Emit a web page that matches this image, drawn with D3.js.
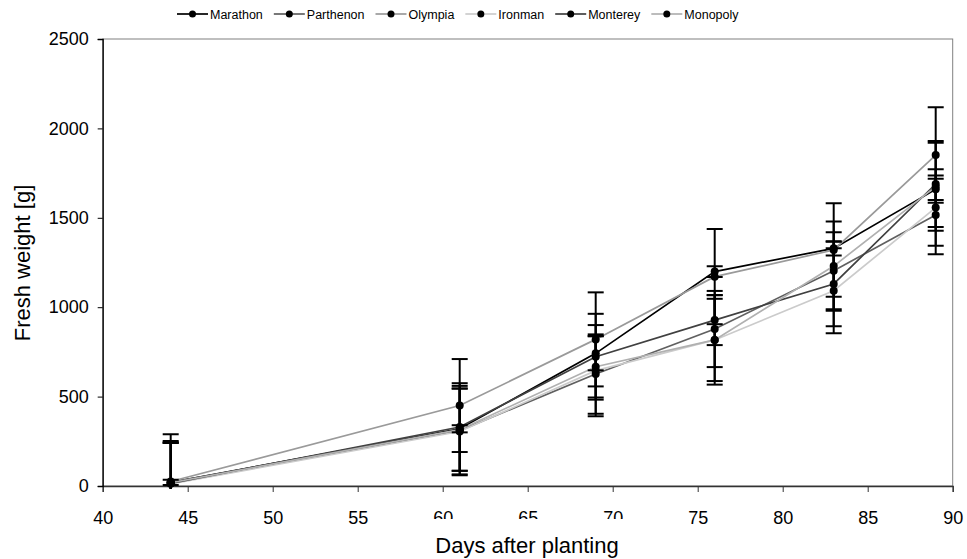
<!DOCTYPE html>
<html><head><meta charset="utf-8">
<script src="https://cdn.jsdelivr.net/npm/d3@7"></script>
<style>body{margin:0;background:#fff}svg{display:block;font-family:"Liberation Sans",Arial,sans-serif}</style>
</head><body><svg id="c" width="967" height="559"></svg>
<script>
const days = [44, 61, 69, 76, 83, 89];
const seriesNames = ["Marathon", "Parthenon", "Olympia", "Ironman", "Monterey", "Monopoly"];
const marathon  = [20, 320, 742, 1199, 1329, 1659];
const parthenon = [20, 310, 626, 878, 1204, 1516];
const olympia   = [25, 450, 820, 1171, 1320, 1851];
const ironman   = [12, 305, 645, 817, 1092, 1557];
const monterey  = [15, 330, 723, 928, 1130, 1689];
const monopoly  = [18, 315, 667, 817, 1230, 1674];
const marathonErr  = [15, 20, 95, 30, 40, 60];
const parthenonErr = [220, 250, 222, 213, 215, 220];
const olympiaErr   = [265, 260, 263, 266, 261, 267];
const ironmanErr   = [230, 240, 255, 230, 238, 214];
const montereyErr  = [237, 245, 240, 140, 236, 240];
const monopolyErr  = [225, 230, 172, 250, 250, 246];
const colors = ["#000000", "#606060", "#9a9a9a", "#cbcbcb", "#404040", "#b0b0b0"];
const xTicks = [40, 45, 50, 55, 60, 65, 70, 75, 80, 85, 90];
const yTicks = [0, 500, 1000, 1500, 2000, 2500];

const values = [marathon, parthenon, olympia, ironman, monterey, monopoly];
const errs = [marathonErr, parthenonErr, olympiaErr, ironmanErr, montereyErr, monopolyErr];
const series = seriesNames.map((n, i) => ({name: n, color: colors[i],
  pts: days.map((d, j) => ({d, v: values[i][j], e: errs[i][j]}))}));

const svg = d3.select("#c");
svg.append("rect").attr("width", 967).attr("height", 559).attr("fill", "#fff");
const x = d3.scaleLinear().domain([40, 90]).range([102.7, 952.7]);
const y = d3.scaleLinear().domain([0, 2500]).range([486, 39]);

// plot frame
svg.append("rect").attr("x", x(40)).attr("y", y(2500)).attr("width", x(90) - x(40)).attr("height", y(0) - y(2500))
  .attr("fill", "none").attr("stroke", "#808080").attr("stroke-width", 1);

svg.append("defs").append("clipPath").attr("id", "clip").append("rect")
  .attr("x", x(40)).attr("y", y(2500) - 2).attr("width", x(90) - x(40) + 2).attr("height", y(0) - y(2500) + 5);

const xAxis = svg.append("g").attr("transform", `translate(0,${y(0)})`)
  .call(d3.axisBottom(x).tickValues(xTicks).tickSize(6).tickPadding(19).tickFormat(d3.format("d")));
xAxis.select(".domain").attr("stroke", "#333").attr("stroke-width", 1.3);
xAxis.selectAll(".tick line").attr("stroke", "#333");
xAxis.selectAll("text").attr("font-size", 18).attr("fill", "#000").attr("font-family", "Liberation Sans, Arial, sans-serif");

const yAxis = svg.append("g").attr("transform", `translate(${x(40)},0)`)
  .call(d3.axisLeft(y).tickValues(yTicks).tickSize(5).tickPadding(9).tickFormat(d3.format("d")));
yAxis.select(".domain").attr("stroke", "#000").attr("stroke-width", 1.3);
yAxis.selectAll(".tick line").attr("stroke", "#000");
yAxis.selectAll("text").attr("font-size", 18).attr("fill", "#000").attr("font-family", "Liberation Sans, Arial, sans-serif");

const plot = svg.append("g").attr("clip-path", "url(#clip)");
const line = d3.line().x(p => x(p.d)).y(p => y(p.v));
series.forEach(s => {
  plot.append("path").attr("d", line(s.pts)).attr("fill", "none").attr("stroke", s.color).attr("stroke-width", 1.7);
});
series.forEach(s => {
  const g = plot.append("g").attr("stroke", "#000").attr("stroke-width", 2);
  s.pts.forEach(p => {
    const cx = x(p.d);
    g.append("line").attr("x1", cx).attr("x2", cx).attr("y1", y(p.v + p.e)).attr("y2", y(p.v - p.e));
    [p.v + p.e, p.v - p.e].forEach(v => g.append("line").attr("x1", cx - 8).attr("x2", cx + 8).attr("y1", y(v)).attr("y2", y(v)));
  });
});
series.forEach(s => {
  plot.append("g").selectAll("circle").data(s.pts).join("circle")
    .attr("cx", p => x(p.d)).attr("cy", p => y(p.v)).attr("r", 4).attr("fill", "#000");
});

// legend
const leg = svg.append("g").attr("font-size", 12.5);
let lx = 177;
series.forEach(s => {
  const g = leg.append("g").attr("transform", `translate(${lx},14)`);
  g.append("line").attr("x1", 0).attr("x2", 31).attr("stroke", s.color).attr("stroke-width", 1.7);
  g.append("circle").attr("cx", 15.5).attr("r", 3.5).attr("fill", "#000");
  const t = g.append("text").attr("x", 33).attr("y", 4.5).attr("fill", "#000").text(s.name);
  lx += 33 + t.node().getComputedTextLength() + 11;
});

// axis titles
const xt = svg.append("text").attr("x", 527).attr("y", 553).attr("text-anchor", "middle")
  .attr("font-size", 22).attr("fill", "#000").text("Days after planting");
const bb = xt.node().getBBox();
svg.insert("rect", function(){ return xt.node(); })
  .attr("x", bb.x - 20).attr("y", 519).attr("width", bb.width + 40).attr("height", 40).attr("fill", "#fff");
svg.append("text").attr("transform", "translate(30,263) rotate(-90)").attr("text-anchor", "middle")
  .attr("font-size", 22).attr("fill", "#000").text("Fresh weight [g]");
</script></body></html>
